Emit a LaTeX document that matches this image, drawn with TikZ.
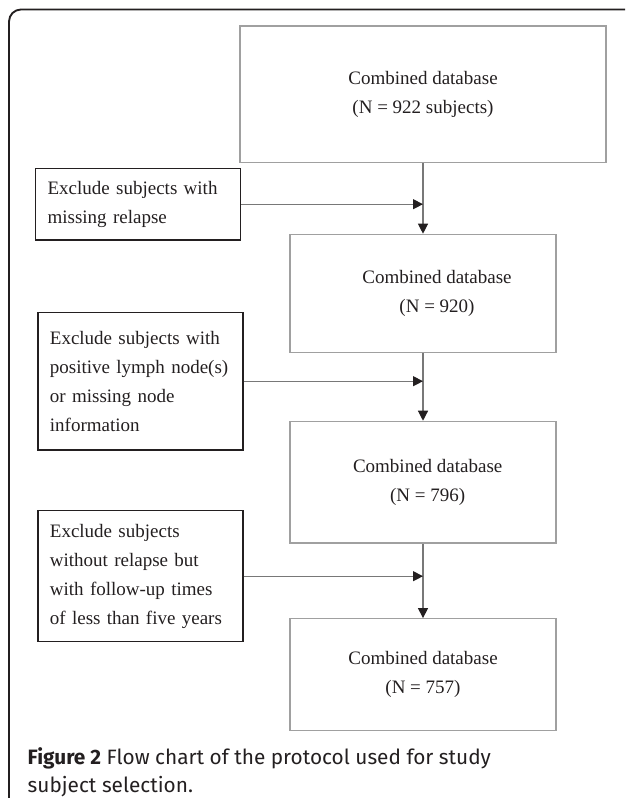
\documentclass[tikz,border=0pt]{standalone}
\usepackage{fontspec}
\setmainfont{Liberation Serif}
\newfontfamily\capfont{Fira Sans}
\usetikzlibrary{arrows.meta}
\definecolor{boxgray}{RGB}{160,160,160}
\definecolor{linegray}{RGB}{120,120,120}
\definecolor{ink}{RGB}{35,31,32}

\begin{document}
\begin{tikzpicture}[x=0.75pt, y=-0.75pt,
    every node/.style={font=\fontsize{14.25}{21.75}\selectfont, text=ink},
    mainbox/.style={rectangle, draw=boxgray, line width=0.9pt, minimum width=199.5pt, align=center},
    sidebox/.style={rectangle, draw=ink, line width=0.9pt, anchor=west, text width=135.75pt, inner xsep=9pt, align=left},
    flow/.style={draw=linegray, line width=0.9pt, -{Triangle[length=7.5pt,width=7.5pt,color=ink]}}]
  \path[use as bounding box] (0,0) rectangle (625,798);
  % frame round the figure, cut by the page
  \draw[ink, line width=1.4pt, rounded corners=9pt] (9,798) -- (9,9.5) -- (625,9.5);
  \node (m1) at (423,94.3) [mainbox, minimum width=274.5pt, minimum height=102.5pt] {Combined database\\(N = 922 subjects)};
  \node (m2) at (423,293.5) [mainbox, minimum height=88.8pt] {\hspace*{21pt}Combined database\\\hspace*{21pt}(N = 920)};
  \node (m3) at (423,482.2) [mainbox, minimum height=91.3pt] {\hspace*{7pt}Combined database\\\hspace*{7pt}(N = 796)};
  \node (m4) at (423,674.7) [mainbox, minimum height=84pt] {Combined database\\(N = 757)};
  \node (s1) at (35,204.2) [sidebox, minimum height=53.8pt] {Exclude subjects with\\missing relapse};
  \node (s2) at (37.3,381.2) [sidebox, minimum height=103.3pt] {Exclude subjects with\\positive lymph node(s)\\or missing node\\information};
  \node (s3) at (37.3,576.2) [sidebox, minimum height=98.3pt] {Exclude subjects\\without relapse but\\with follow-up times\\of less than five years};
  \node (cap) at (23,772) [anchor=west, align=left, font=\capfont\fontsize{15.6}{21}\selectfont] {\textbf{Figure 2} Flow chart of the protocol used for study\\subject selection.};
  \foreach \source/\dest in {m1/m2, m2/m3, m3/m4}
    \draw[flow] (\source) -- (\dest);
  \foreach \source/\dest in {s1/m1, s2/m2, s3/m3}
    \draw[flow] (\source.east) -- (\source.east -| \dest.south);
\end{tikzpicture}
\end{document}
